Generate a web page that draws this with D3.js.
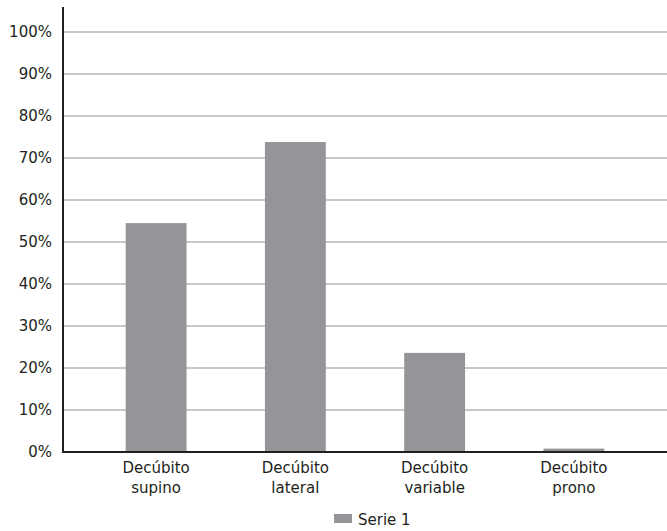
<!DOCTYPE html>
<html>
<head>
<meta charset="utf-8">
<script src="https://cdn.jsdelivr.net/npm/d3@7"></script>
<style>
  body { margin: 0; background: #fff; }
  text { font-family: "DejaVu Sans", sans-serif; fill: #231f20; }
</style>
</head>
<body>
<div id="chart"></div>
<script>
// data
const categories = [["Decúbito", "supino"], ["Decúbito", "lateral"], ["Decúbito", "variable"], ["Decúbito", "prono"]];
const values = [54.5, 73.8, 23.6, 0.8];
const yTicks = [0, 10, 20, 30, 40, 50, 60, 70, 80, 90, 100];
const seriesName = "Serie 1";

const width = 667;
const height = 531;

const AXIS_X = 63;
const Y_ZERO = 452;
const Y_TOP = 32;

const BAR_COLOR = "#939598";
const GRID_COLOR = "#c8c8cb";
const AXIS_COLOR = "#231f20";

const svg = d3.select("#chart")
  .append("svg")
  .attr("width", width)
  .attr("height", height);

const x = d3.scaleBand()
  .domain(d3.range(categories.length))
  .range([AXIS_X, width])
  .paddingInner(0.563)
  .paddingOuter(0.45);

const y = d3.scaleLinear()
  .domain([0, 100])
  .range([Y_ZERO, Y_TOP]);

// gridlines
svg.append("g")
  .selectAll("line")
  .data(yTicks.filter(d => d > 0))
  .enter()
  .append("line")
  .attr("x1", AXIS_X)
  .attr("x2", width)
  .attr("y1", d => y(d))
  .attr("y2", d => y(d))
  .attr("stroke", GRID_COLOR)
  .attr("stroke-width", 2);

// tick labels
svg.append("g")
  .selectAll("text")
  .data(yTicks)
  .enter()
  .append("text")
  .attr("x", 52)
  .attr("y", d => y(d) + 5)
  .attr("text-anchor", "end")
  .style("font-size", "15px")
  .text(d => d + "%");

// bars
svg.append("g")
  .selectAll("rect")
  .data(values)
  .enter()
  .append("rect")
  .attr("x", (d, i) => x(i))
  .attr("y", d => y(d))
  .attr("width", x.bandwidth())
  .attr("height", d => Y_ZERO - y(d))
  .attr("fill", BAR_COLOR);

// axes lines
svg.append("line")
  .attr("x1", AXIS_X).attr("x2", AXIS_X)
  .attr("y1", 7).attr("y2", Y_ZERO + 1)
  .attr("stroke", AXIS_COLOR)
  .attr("stroke-width", 2);

svg.append("line")
  .attr("x1", AXIS_X - 1).attr("x2", width)
  .attr("y1", Y_ZERO).attr("y2", Y_ZERO)
  .attr("stroke", AXIS_COLOR)
  .attr("stroke-width", 2);

// category labels (two lines)
const catText = svg.append("g")
  .selectAll("text")
  .data(categories)
  .enter()
  .append("text")
  .attr("text-anchor", "middle")
  .style("font-size", "15px");

catText.each(function (d, i) {
  const t = d3.select(this);
  d.forEach((line, k) => {
    t.append("tspan")
      .attr("x", x(i) + x.bandwidth() / 2)
      .attr("y", 473 + k * 20)
      .text(line);
  });
});

// legend
const legend = svg.append("g");
legend.append("rect")
  .attr("x", 334)
  .attr("y", 514)
  .attr("width", 18)
  .attr("height", 9)
  .attr("fill", BAR_COLOR);
legend.append("text")
  .attr("x", 358)
  .attr("y", 525)
  .style("font-size", "15px")
  .text(seriesName);
</script>
</body>
</html>
